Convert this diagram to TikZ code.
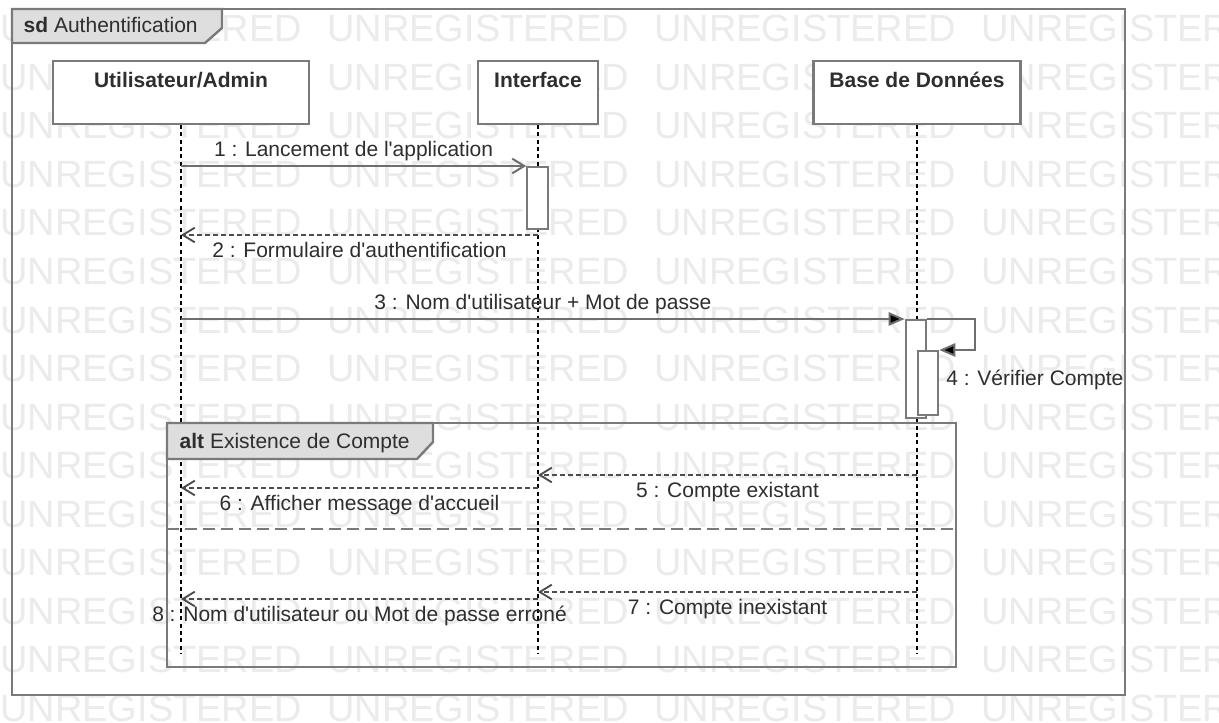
\documentclass[tikz,border=0pt]{standalone}
\usepackage{fontspec}
\setmainfont{Liberation Sans}
\usepackage{xcolor}
\usepackage{tikz}
\usetikzlibrary{arrows.meta}

\definecolor{framegray}{HTML}{7A7A7A}
\definecolor{tabfill}{HTML}{DEDEDE}
\definecolor{msggray}{HTML}{6E6E6E}
\definecolor{txtgray}{HTML}{2E2E2E}
\definecolor{wmgray}{HTML}{EBEBEB}
\newcommand{\apos}{\textquotesingle}

\begin{document}
\begin{tikzpicture}[x=0.75pt, y=-0.75pt,
  every node/.style={text=txtgray, font=\fontsize{15.75pt}{19pt}\selectfont},
  wmark/.style={anchor=base west, inner sep=0pt, text=wmgray, font=\fontsize{28.5pt}{30pt}\selectfont},
  frameline/.style={draw=framegray, line width=1.8pt},
  tabbox/.style={draw=framegray, line width=1.8pt, fill=tabfill},
  sepline/.style={draw=framegray, line width=1.8pt, dash pattern=on 9pt off 4.5pt},
  head/.style={rectangle, draw=framegray, line width=1.6pt, fill=white, font=\fontsize{15.75pt}{19pt}\selectfont\bfseries, text height=20.25pt, text depth=27pt, inner ysep=0pt},
  act/.style={rectangle, draw=framegray, line width=1.5pt, fill=white, inner sep=0pt, minimum width=15.5pt},
  lifeline/.style={draw=black, line width=1pt, dash pattern=on 3pt off 2.5pt},
  msg/.style={draw=msggray, line width=1.5pt},
  ret/.style={draw=txtgray!85, line width=1.4pt, dash pattern=on 3.5pt off 2.5pt},
  open/.style={-{Straight Barb[length=9pt, width=11pt]}},
  solidtip/.style={-{Triangle[length=12pt, width=10pt, fill=black]}},
  lblup/.style={anchor=base, yshift=7pt},
  lbldown/.style={anchor=base, yshift=-17pt}]

  \fill[white] (0,0) rectangle (1219,723);
  \useasboundingbox (0,0) rectangle (1219,723);

  \foreach \r in {0,...,14}
    \foreach \c in {0,...,3}
      \node[wmark] (wm-\r-\c) at (327*\c, 42+48.5*\r) {UNREGISTERED};

  \draw[frameline] (12,9) rectangle (1125,695);
  \draw[tabbox] (12,9) -- (222,9) -- (222,28) -- (205,43) -- (12,43) -- cycle;
  \node[anchor=base west] (sdlbl) at (19,33) {\textbf{sd}\ Authentification};

  \draw[frameline] (167,423) rectangle (956,667);
  \draw[sepline] (167,529) -- (956,529);

  \node[head, minimum width=192pt] (admin) at (181,92.5) {Utilisateur/Admin};
  \node[head, minimum width=90pt] (iface) at (538,92.5) {Interface};
  \node[head, minimum width=155.25pt] (bdd) at (917,92.5) {Base de Données};

  \coordinate (adminEnd) at (181,654);
  \coordinate (ifaceEnd) at (538,654);
  \coordinate (bddEnd) at (917,654);
  \draw[lifeline] (admin.south) -- (adminEnd);
  \draw[lifeline] (iface.south) -- (ifaceEnd);
  \draw[lifeline] (bdd.south) -- (bddEnd);

  \draw[tabbox] (167,423) -- (433,423) -- (433,442) -- (417,459) -- (167,459) -- cycle;
  \node[anchor=base west] (altlbl) at (175,448) {\textbf{alt}\ Existence de Compte};

  \node[act, minimum height=46.5pt] (actI) at (537.5,198) {};
  \node[act, minimum height=73.5pt] (actB) at (916,369) {};
  \node[act, minimum height=48pt] (actB2) at (928,383) {};

  \coordinate (r2) at (0,235);
  \coordinate (r5) at (0,475);
  \coordinate (r6) at (0,488);
  \coordinate (r7) at (0,592);
  \coordinate (r8) at (0,599);

  \draw[msg, open] (admin.south |- actI.north west) -- (actI.north west)
    node[midway, lblup] (l1) {1 : Lancement de l\apos application};
  \draw[ret, open] (iface.south |- r2) -- (admin.south |- r2)
    node[midway, lbldown] (l2) {2 : Formulaire d\apos authentification};
  \draw[msg, solidtip] (admin.south |- actB.north west) -- (actB.north west)
    node[midway, lblup] (l3) {3 : Nom d\apos utilisateur + Mot de passe};
  \draw[msg, solidtip] (actB.north east) -- ++(48,0) |- (actB2.north east);
  \node[anchor=west, inner sep=0pt] (l4) at (946,380) {4 : Vérifier Compte};
  \draw[ret, open] (bdd.south |- r5) -- (iface.south |- r5)
    node[midway, lbldown] (l5) {5 : Compte existant};
  \draw[ret, open] (iface.south |- r6) -- (admin.south |- r6)
    node[midway, lbldown] (l6) {6 : Afficher message d\apos accueil};
  \draw[ret, open] (bdd.south |- r7) -- (iface.south |- r7)
    node[midway, lbldown] (l7) {7 : Compte inexistant};
  \draw[ret, open] (iface.south |- r8) -- (admin.south |- r8)
    node[midway, lbldown] (l8) {8 : Nom d\apos utilisateur ou Mot de passe erroné};
\end{tikzpicture}
\end{document}
